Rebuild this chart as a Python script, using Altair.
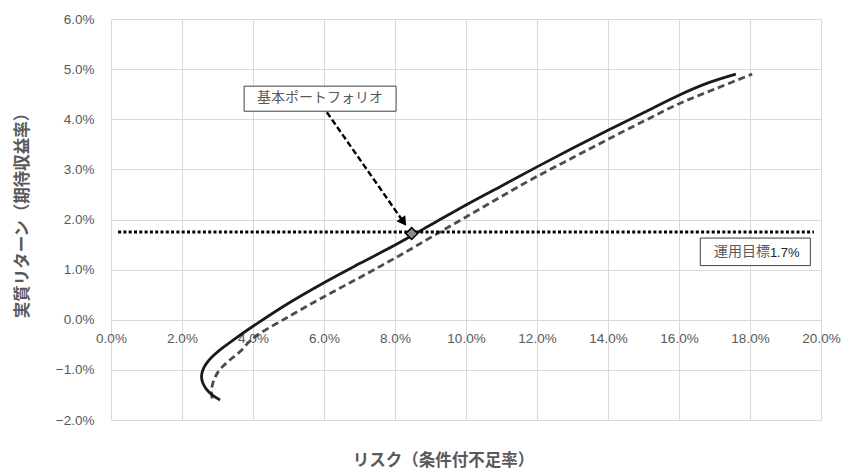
import altair as alt
import pandas as pd

# ---- data (percent units) ----
solid_x = [3.07, 2.85, 2.68, 2.58, 2.55, 2.60, 2.70, 2.85, 3.07, 3.45, 4.0, 5.0, 6.0, 7.0, 8.0,
           9.0, 10.0, 11.0, 12.0, 13.0, 14.0, 15.0, 16.0, 16.8, 17.6]
solid_y = [-1.60, -1.50, -1.38, -1.25, -1.12, -0.98, -0.86, -0.74, -0.60, -0.40, -0.13, 0.33, 0.74,
           1.12, 1.49, 1.89, 2.29, 2.67, 3.05, 3.42, 3.78, 4.13, 4.48, 4.72, 4.90]

dash_x = [2.85, 2.83, 2.85, 2.90, 3.00, 3.15, 3.35, 3.63, 4.0, 5.0, 6.0, 7.0, 8.0, 9.0, 10.0,
          11.0, 12.0, 13.0, 14.0, 15.0, 16.0, 17.0, 18.06]
dash_y = [-1.57, -1.45, -1.32, -1.20, -1.06, -0.93, -0.80, -0.64, -0.37, 0.06, 0.46, 0.84, 1.23,
          1.64, 2.05, 2.46, 2.86, 3.23, 3.60, 3.96, 4.31, 4.60, 4.90]

x_ticks = [0, 2, 4, 6, 8, 10, 12, 14, 16, 18, 20]
y_ticks = [-2, -1, 0, 1, 2, 3, 4, 5, 6]

target_value = 1.75
target_span = [0.2, 19.8]

base_point = [8.47, 1.72]

# annotation: base portfolio label box / arrow
base_label = "基本ポートフォリオ"
base_box = [3.75, 8.03, 4.16, 4.66]      # x, x2, y, y2
base_text_pos = [5.89, 4.42]
arrow_from = [6.08, 4.14]
arrow_head = [8.24, 1.95]

target_label_jp = "運用目標"
target_label_num = "1.7%"
target_box = [16.6, 19.7, 1.08, 1.63]
target_text_pos = [18.56, 1.355]

# ---- frames ----
solid_df = pd.DataFrame({"x": solid_x, "y": solid_y, "i": range(len(solid_x))})
dash_df = pd.DataFrame({"x": dash_x, "y": dash_y, "i": range(len(dash_x))})
target_df = pd.DataFrame({"x": [target_span[0]], "x2": [target_span[1]], "y": [target_value]})
base_df = pd.DataFrame({"x": [base_point[0]], "y": [base_point[1]]})
arrow_df = pd.DataFrame({"x": [arrow_from[0], arrow_head[0]], "y": [arrow_from[1], arrow_head[1]], "i": [0, 1]})
head_df = pd.DataFrame({"x": [arrow_head[0]], "y": [arrow_head[1]]})
boxes_df = pd.DataFrame({
    "x": [base_box[0], target_box[0]], "x2": [base_box[1], target_box[1]],
    "y": [base_box[2], target_box[2]], "y2": [base_box[3], target_box[3]],
})
base_text_df = pd.DataFrame({"x": [base_text_pos[0]], "y": [base_text_pos[1]], "t": [base_label]})
tjp_df = pd.DataFrame({"x": [target_text_pos[0]], "y": [target_text_pos[1]], "t": [target_label_jp]})
tnum_df = pd.DataFrame({"x": [target_text_pos[0]], "y": [target_text_pos[1]], "t": [target_label_num]})

LABEL_FONT = "Liberation Sans"
JP_FONT = "Noto Sans CJK JP"
GRAY = "#595959"
GRID = "#d9d9d9"

xscale = alt.Scale(domain=[0, 20], nice=False, zero=False)
yscale = alt.Scale(domain=[-2, 6], nice=False, zero=False)

xaxis = alt.Axis(
    values=x_ticks, labelExpr="format(datum.value, '.1f') + '%'",
    grid=True, gridColor=GRID, gridWidth=1, domain=False, ticks=False,
    offset=-100, labelFont=LABEL_FONT, labelFontSize=13.5, labelColor=GRAY,
    labelPadding=11, labelFlush=False, labelOverlap=False,
    title="リスク（条件付不足率）", titleFont=JP_FONT, titleFontSize=16.5,
    titleFontWeight="bold", titleColor=GRAY, titleX=332, titleY=140,
    titleAlign="center", titleBaseline="middle",
)
yaxis = alt.Axis(
    values=y_ticks, labelExpr="format(datum.value, '.1f') + '%'",
    grid=True, gridColor=GRID, gridWidth=1, domain=False, ticks=False,
    labelFont=LABEL_FONT, labelFontSize=13.5, labelColor=GRAY, labelPadding=17,
    labelFlush=False, labelOverlap=False,
    title="実質リターン（期待収益率）", titleFont=JP_FONT, titleFontSize=16.5,
    titleFontWeight="bold", titleColor=GRAY, titleAngle=270, titleX=-89, titleY=192,
    titleAlign="center", titleBaseline="middle",
)

X = alt.X("x:Q", scale=xscale, axis=xaxis)
Y = alt.Y("y:Q", scale=yscale, axis=yaxis)

solid = alt.Chart(solid_df).mark_line(
    color="#1a1a1a", strokeWidth=2.8, interpolate="catmull-rom"
).encode(x=X, y=Y, order=alt.Order("i:Q"))

dashed = alt.Chart(dash_df).mark_line(
    color="#4d4d4d", strokeWidth=2.8, strokeDash=[7, 4], interpolate="catmull-rom"
).encode(x=X, y=Y, order=alt.Order("i:Q"))

target = alt.Chart(target_df).mark_rule(
    color="black", strokeWidth=3, strokeDash=[3, 2.3]
).encode(x=X, x2="x2:Q", y=Y)

arrow = alt.Chart(arrow_df).mark_line(
    color="black", strokeWidth=2.4, strokeDash=[6, 3]
).encode(x=X, y=Y, order=alt.Order("i:Q"))

head = alt.Chart(head_df).mark_point(
    shape="triangle-up", filled=True, color="black", opacity=1, size=115, angle=145
).encode(x=X, y=Y)

base = alt.Chart(base_df).mark_point(
    shape="diamond", filled=True, fill="#8c8c8c", stroke="black", strokeWidth=1.5,
    opacity=1, size=140
).encode(x=X, y=Y)

boxes = alt.Chart(boxes_df).mark_rect(
    fill="white", stroke="#404040", strokeWidth=1
).encode(x=X, x2="x2:Q", y=Y, y2="y2:Q")

base_text = alt.Chart(base_text_df).mark_text(
    font=JP_FONT, fontSize=14, color=GRAY, align="center", baseline="middle"
).encode(x=X, y=Y, text="t:N")

tjp = alt.Chart(tjp_df).mark_text(
    font=JP_FONT, fontSize=14, color=GRAY, align="right", baseline="middle"
).encode(x=X, y=Y, text="t:N")

tnum = alt.Chart(tnum_df).mark_text(
    font=LABEL_FONT, fontSize=13, color="#262626", align="left", baseline="middle", dy=1
).encode(x=X, y=Y, text="t:N")

chart = alt.layer(
    dashed, solid, target, boxes, arrow, head, base, base_text, tjp, tnum
).properties(
    width=710, height=401,
    autosize=alt.AutoSizeParams(type="none"),
    padding={"left": 111, "top": 19, "right": 21, "bottom": 50},
    background="white",
).configure_view(stroke=None)

chart.save("out.html", embed_options={"renderer": "svg", "actions": False})
